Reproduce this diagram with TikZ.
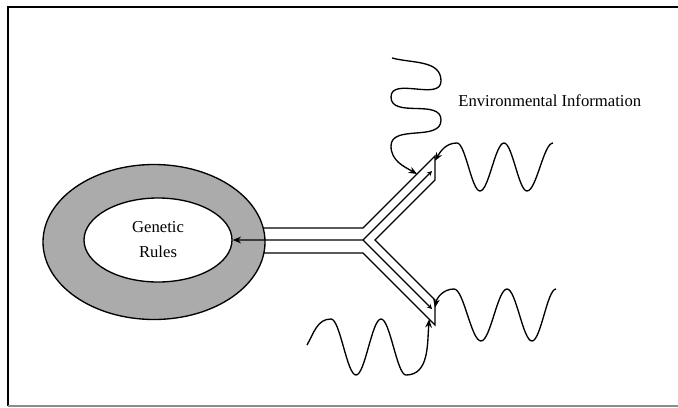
\documentclass[tikz,border=0pt]{standalone}
\usepackage{fontspec}
\setmainfont{Liberation Serif}
\usetikzlibrary{shapes.geometric,arrows.meta,calc}
\pgfdeclarelayer{background}
\pgfsetlayers{background,main}
\begin{document}
\begin{tikzpicture}[x=0.6pt,y=-0.6pt,
  tube/.style={line width=0.7pt, line join=miter},
  wire/.style={line width=0.7pt},
  tip/.style={-{Stealth[length=5pt,width=4pt]}},
  wave/.style={line width=0.8pt, tip},
  lbl/.style={font=\fontsize{10}{15}\selectfont, inner sep=0pt}]
\useasboundingbox (0,0) rectangle (678,407);
% frame
\draw[line width=1pt] (8,406) -- (8,7) -- (678,7);
\draw[line width=0.8pt, black!45] (8,406) -- (678,406);

% shaded ring with the rule core
\node[draw, ellipse, fill=black!33, line width=0.8pt, inner sep=0pt,
      minimum width=133.2pt, minimum height=93pt] (ring) at (154,242) {};
\node[draw, ellipse, fill=white, line width=0.8pt, align=center, lbl,
      minimum width=88.8pt, minimum height=50.4pt] (core) at (158,240) {Genetic\\Rules};

% Y-shaped channel geometry
\coordinate (vt) at (363,228);
\coordinate (vb) at (363,253);
\coordinate (vm) at (363,240);
\coordinate (vi) at (375,240);
\coordinate (ua) at (435,156);
\coordinate (ub) at (435,180);
\coordinate (la) at (435,300);
\coordinate (lb) at (435,325);
\coordinate (um) at (432,171);
\coordinate (lm) at (432,309);

\begin{pgfonlayer}{background}
\draw[tube] (ring.center |- vt) -- (vt) -- (ua) -- (ub) -- (vi) -- (la) -- (lb) -- (vb) -- (ring.center |- vb);
\end{pgfonlayer}

% signal line along the channel
\draw[wire, {Stealth[length=3pt,width=3pt]}-{Stealth[length=5pt,width=4pt]}] (um) -- (vm) -- (core.east);
\draw[wire, {Stealth[length=3pt,width=3pt]}-] (lm) -- (vm);

% incoming waves
\coordinate (s1) at (392,58);
\coordinate (hit1) at ($(vt)!0.75!(ua)$);
\draw[wave] (s1) to[out=-15,in=90] (441,81) to[out=-90,in=90] (391,97)
  to[out=-90,in=90] (441,120) to[out=-90,in=90] (391,146) to[out=-90,in=150] (hit1);

\coordinate (s2) at (553,143);
\coordinate (hit2) at ($(ua)!0.2!(ub)$);
\draw[wave] (s2) cos (540,167) sin (527,191) cos (515.5,167) sin (504,143)
  cos (492,167) sin (480,191) cos (468.5,167) sin (457,143) to[out=180,in=60] (hit2);

\coordinate (s3) at (556,289);
\coordinate (hit3) at ($(la)!0.3!(lb)$);
\draw[wave] (s3) cos (544,315) sin (532,341) cos (519.5,315) sin (507,289)
  cos (494,315) sin (481,341) cos (467.5,315) sin (454,289) to[out=180,in=80] (hit3);

\coordinate (s4) at (307,345);
\coordinate (hit4) at ($(vb)!0.92!(lb)$);
\draw[wave] (s4) to[out=60,in=180] (331,319) cos (343.5,347) sin (356,375)
  cos (368.5,347) sin (381,319) cos (393.5,347) sin (406,375) to[out=0,in=-95] (hit4);

\node[lbl, anchor=west] (env) at (458,101) {Environmental Information};
\end{tikzpicture}
\end{document}
